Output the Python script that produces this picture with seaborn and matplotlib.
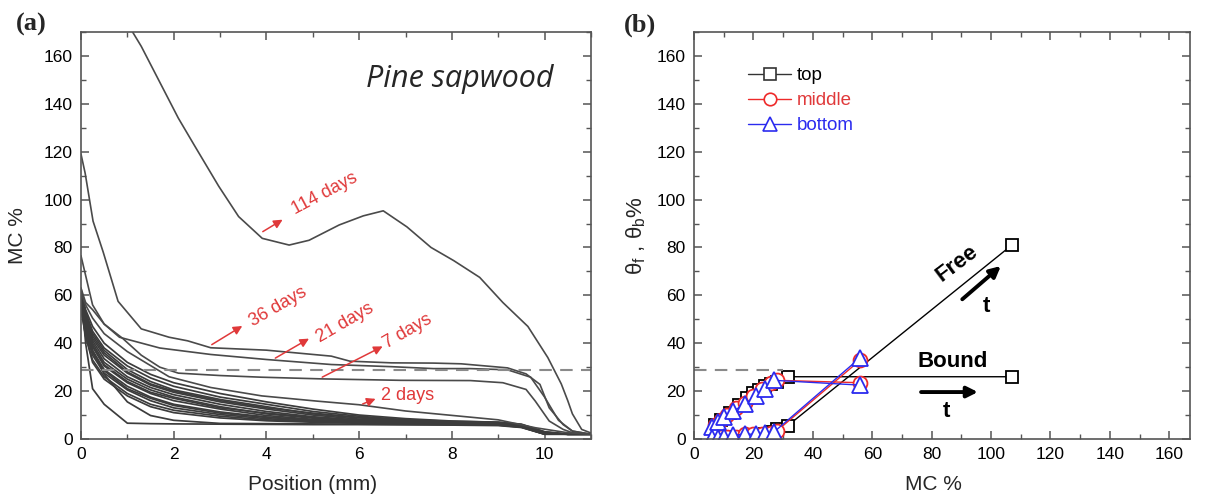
import numpy as np
import pandas as pd
import matplotlib
matplotlib.use("Agg")
import matplotlib.pyplot as plt
import seaborn as sns
from matplotlib.ticker import MultipleLocator
from matplotlib.lines import Line2D

# ---------------- data: panel (a) moisture profiles ----------------
grid_x = [0, 0.1, 0.25, 0.5, 1, 1.5, 2, 3, 4, 5, 6, 7, 8, 9, 9.5, 10, 10.5, 11]
b01 = [61, 54, 47, 40, 32, 27, 23.5, 19, 15.5, 12.5, 10, 8.5, 7.5, 7, 6, 3, 2, 2]
b02 = [62, 53, 45, 38, 30.5, 25.5, 22, 17.5, 14.5, 11.5, 9.5, 8, 7.2, 6.8, 5.8, 2.8, 2, 2]
b03 = [59, 52, 44, 37, 29, 24, 20.5, 16.5, 13.5, 10.5, 8.8, 7.6, 7, 6.6, 5.7, 2.6, 2, 2]
b04 = [60, 51, 42, 35, 27.5, 22.5, 19.5, 15.5, 12.5, 10, 8.3, 7.3, 6.8, 6.5, 5.6, 2.5, 2, 2]
b05 = [58, 50, 41, 33.5, 26, 21.5, 18.5, 14.5, 11.5, 9.3, 7.9, 7.1, 6.7, 6.4, 5.5, 2.4, 2, 2]
b06 = [57, 49, 40, 32, 25, 20.5, 17.5, 13.5, 10.5, 8.7, 7.5, 6.9, 6.5, 6.3, 5.4, 2.3, 2, 2]
b07 = [56, 48, 38.5, 30.5, 23.5, 19, 16, 12.5, 9.8, 8.2, 7.2, 6.7, 6.4, 6.2, 5.3, 2.2, 2, 2]
b08 = [55, 46, 37, 29, 22, 17.5, 14.5, 11.3, 9.2, 7.8, 7, 6.5, 6.3, 6.1, 5.2, 2.2, 2, 2]
b09 = [56, 45, 35, 27.5, 20.5, 16, 13, 10.2, 8.5, 7.4, 6.8, 6.4, 6.2, 6, 5.1, 2.1, 2, 2]
b10 = [54, 43, 32, 25, 18, 13.5, 11, 8.8, 7.6, 7, 6.6, 6.3, 6.1, 5.9, 5, 2, 2, 2]
b11 = [60, 47, 37, 27, 15.5, 9.8, 7.8, 6.5, 6.4, 6.3, 6.2, 6.1, 6, 5.8, 4.9, 2, 2, 2]
b12 = [62, 40, 21, 14.5, 6.6, 6.4, 6.3, 6.2, 6.1, 6, 6, 5.9, 5.8, 5.6, 4.8, 2, 2, 2]
b13 = [63, 52, 43, 36, 28, 23, 20, 16, 13, 10.8, 9, 8, 7.4, 7, 6.2, 3, 2, 2]
b14 = [58, 47, 39, 31, 24, 19.5, 17, 13, 10.8, 9, 7.8, 7.2, 6.9, 6.7, 5.8, 2.5, 2, 2]
b15 = [57, 45, 36, 28.5, 21, 17, 14, 10.8, 9, 7.9, 7.3, 6.9, 6.6, 6.4, 5.6, 2.3, 2, 2]
b16 = [55, 43, 33, 26, 19, 14.5, 12, 9.5, 8, 7.3, 6.9, 6.6, 6.4, 6.2, 5.4, 2.2, 2, 2]

d2_x = [0, 0.1, 0.25, 0.5, 1, 1.9, 2.8, 3.9, 5.1, 6.0, 7.0, 8.3, 9.0, 9.8, 10.5, 11]
d2_y = [61, 56, 50.5, 44, 36.5, 26, 21.5, 18, 15.8, 14.3, 11.7, 9.3, 8, 4.7, 2.6, 2]

d7_x = [0, 0.1, 0.25, 0.5, 0.9, 1.3, 1.7, 2.1, 3.0, 3.9, 5.2, 6.9, 8.4, 9.1, 9.6, 9.8, 10.1, 10.4, 10.6, 11]
d7_y = [63, 57, 54, 48, 42, 35, 30, 27.5, 26.5, 25.8, 25.1, 24.5, 24.4, 23.5, 20.7, 15.8, 7.5, 4, 2.6, 2]

d21_x = [0, 0.25, 0.5, 0.83, 1.7, 2.8, 4.0, 5.4, 6.7, 7.6, 8.4, 9.2, 9.7, 10.0, 10.3, 10.6, 11]
d21_y = [76.5, 56, 48, 42.5, 38, 35.3, 33.2, 31.1, 30.2, 29.4, 29.4, 28.9, 25.8, 17.5, 7.8, 3.3, 2]

d36_x = [0, 0.09, 0.26, 0.48, 0.8, 1.3, 1.9, 2.3, 2.8, 4.0, 5.4, 5.8, 6.7, 7.6, 8.2, 9.2, 9.6, 9.9, 10.1, 10.4, 10.6, 11]
d36_y = [119, 111, 91, 78, 57.5, 46, 42.5, 41, 38.1, 37.1, 34.6, 32.5, 31.8, 31.7, 31.4, 29.7, 27.2, 22.8, 13, 6, 3.3, 2]

d114_x = [1.05, 1.3, 1.7, 2.1, 2.45, 2.97, 3.4, 3.91, 4.49, 4.92, 5.57, 6.09, 6.52, 7.03, 7.55,
          8.04, 8.6, 9.1, 9.64, 10.07, 10.36, 10.5, 10.6, 10.8, 11.0]
d114_y = [172, 164, 149, 134, 122.5, 105.6, 92.9, 83.8, 81, 83, 89.4, 93.2, 95.3, 88.6, 80,
          74.5, 67.5, 57, 47, 34, 23, 16, 10.5, 4, 2.5]

fsp = 29  # fibre saturation level (dashed line)

# ---------------- data: panel (b) free / bound water ----------------
top_mc = [7, 9, 12, 15, 18, 20, 22, 24, 26, 28, 31.5, 107]
top_b = [6, 8, 11, 14, 17, 19, 20.5, 22, 23, 24, 26, 26]
top_f = [1, 1, 1, 1, 1, 1, 1.5, 2, 3, 4, 5.5, 81]

mid_mc = [7, 9, 11, 14, 17, 20, 23, 26, 28, 56]
mid_b = [6, 8, 10, 13, 15, 18, 21, 23.5, 24.5, 23.5]
mid_f = [0.5, 1, 1, 1, 2, 2, 2, 2.5, 3.5, 33]

bot_mc = [6, 8, 10, 13, 17, 21, 24, 27, 56]
bot_b = [5, 7, 9, 11.5, 14.5, 18, 21, 24.5, 22.5]
bot_f = [0.5, 0.5, 1, 1.5, 2, 2, 2.5, 3, 34]

locations = ["top", "middle", "bottom"]

# ---------------- style ----------------
sns.set_theme(style="ticks")
plt.rcParams['font.family'] = ['Liberation Sans', 'DejaVu Sans']
plt.rcParams['mathtext.fontset'] = 'custom'
plt.rcParams['mathtext.rm'] = 'Liberation Sans'
plt.rcParams['mathtext.it'] = 'Liberation Sans'

GRAY = '#3c3c3c'
RED_TXT = '#e0393a'
RED = '#ee2a2a'
BLUE = '#2b2bef'
SPINE = '#555555'

fig = plt.figure(figsize=(12.07, 4.98), dpi=100)
axA = fig.add_axes([0.0671, 0.1185, 0.4225, 0.8173])
axB = fig.add_axes([0.575, 0.1185, 0.411, 0.8173])


def style_axes(ax):
    for s in ax.spines.values():
        s.set_color(SPINE)
        s.set_linewidth(1.2)
    ax.tick_params(which='both', direction='in', top=True, right=True,
                   color=SPINE, labelcolor='black', labelsize=12.5)
    ax.tick_params(which='major', length=6, width=1.1, pad=6)
    ax.tick_params(which='minor', length=3.5, width=1.0)


# ---------------- panel (a) ----------------
bundle = [b01, b02, b03, b04, b05, b06, b07, b08, b09, b10, b11, b12, b13, b14, b15, b16]
for yy in bundle:
    sns.lineplot(x=grid_x, y=yy, ax=axA, color=GRAY, lw=1.25, sort=False,
                 estimator=None)
for xx, yy in [(d2_x, d2_y), (d7_x, d7_y), (d21_x, d21_y), (d36_x, d36_y), (d114_x, d114_y)]:
    sns.lineplot(x=xx, y=yy, ax=axA, color='#4a4a4a', lw=1.2, sort=False, estimator=None)

axA.axhline(fsp, color='#8a8a8a', lw=1.5, ls=(0, (6, 4)))

axA.set_xlim(0, 11)
axA.set_ylim(0, 170)
axA.xaxis.set_major_locator(MultipleLocator(2))
axA.xaxis.set_minor_locator(MultipleLocator(1))
axA.yaxis.set_major_locator(MultipleLocator(20))
axA.yaxis.set_minor_locator(MultipleLocator(10))
style_axes(axA)
axA.set_xlabel("Position (mm)", fontsize=15)
axA.xaxis.set_label_coords(0.455, -0.088)
axA.set_ylabel("MC %", fontsize=15)
axA.yaxis.set_label_coords(-0.105, 0.5)

axA.text(0.927, 0.885, "Pine sapwood", transform=axA.transAxes, fontsize=22,
         fontstyle='italic', family=['Open Sans', 'DejaVu Sans'], ha='right', va='center')

arrow_kw = dict(arrowstyle='-|>', color=RED_TXT, lw=1.1, mutation_scale=13)
ann = [
    ("114 days", (3.87, 86), (4.40, 92.2), (5.25, 102.5), 28),
    ("36 days", (2.77, 38.8), (3.53, 47.8), (4.25, 55.4), 30),
    ("21 days", (4.14, 33.2), (4.97, 42.5), (5.70, 48.5), 30),
    ("7 days", (5.15, 25.3), (6.56, 39.2), (7.05, 45.0), 30),
    ("2 days", (6.02, 14.2), (6.41, 17.2), (7.05, 18.0), 0),
]
for label, tail, tip, tpos, rot in ann:
    axA.annotate("", xy=tip, xytext=tail, arrowprops=arrow_kw)
    axA.text(tpos[0], tpos[1], label, color=RED_TXT, fontsize=13, rotation=rot,
             rotation_mode='anchor', ha='center', va='center')

# ---------------- panel (b) ----------------
series = [
    (top_mc, top_b, top_f, 'black', 's', 9),
    (mid_mc, mid_b, mid_f, RED, 'o', 10),
    (bot_mc, bot_b, bot_f, BLUE, '^', 12),
]
for mc, tb, tf, col, mk, ms in series:
    for yy in (tb, tf):
        sns.lineplot(x=mc, y=yy, ax=axB, color=col, lw=1.0, sort=False, estimator=None,
                     marker=mk, markersize=ms, markerfacecolor='white',
                     markeredgecolor=col, markeredgewidth=1.3)
handles = []
leg_ms = [8, 9, 10]
for (mc, tb, tf, col, mk, ms), name, lms in zip(series, locations, leg_ms):
    c = col if col != 'black' else '#333333'
    handles.append(Line2D([], [], color=c, lw=1.0, marker=mk, markersize=lms,
                          markerfacecolor='white', markeredgecolor=c,
                          markeredgewidth=1.2, label=name))

axB.plot([0, 30], [fsp, fsp], color='#8a8a8a', lw=1.5, ls=(0, (6, 4)))

axB.set_xlim(0, 167)
axB.set_ylim(0, 170)
axB.xaxis.set_major_locator(MultipleLocator(20))
axB.xaxis.set_minor_locator(MultipleLocator(10))
axB.yaxis.set_major_locator(MultipleLocator(20))
axB.yaxis.set_minor_locator(MultipleLocator(10))
style_axes(axB)
axB.set_xlabel("MC %", fontsize=15)
axB.xaxis.set_label_coords(0.482, -0.088)
axB.set_ylabel(r"θ$_\mathrm{f}$ , θ$_\mathrm{b}$%", fontsize=16, labelpad=6)

leg = axB.legend(handles=handles, loc='upper left', bbox_to_anchor=(0.075, 0.955),
                 frameon=False, fontsize=13.5, handlelength=2.3, handletextpad=0.3,
                 labelspacing=0.42, labelcolor=['black', RED_TXT, BLUE])

bold = dict(fontsize=16, fontweight='bold', color='black')
axB.text(88.6, 73.5, "Free", rotation=37, ha='center', va='center', **bold)
axB.text(98.6, 55.5, "t", ha='center', va='center', **bold)
axB.text(87.0, 32.5, "Bound", ha='center', va='center', **bold)
axB.text(85.0, 11.5, "t", ha='center', va='center', **bold)
blk_arrow = dict(arrowstyle='-|>', color='black', lw=2.8, mutation_scale=16)
axB.annotate("", xy=(104, 73), xytext=(89.6, 57.6), arrowprops=blk_arrow)
axB.annotate("", xy=(96.5, 19.6), xytext=(75.5, 19.6), arrowprops=blk_arrow)

# panel labels
fig.text(0.026, 0.95, "(a)", fontsize=19, fontweight='bold',
         family=['Liberation Serif', 'DejaVu Serif'], ha='center', va='center')
fig.text(0.530, 0.95, "(b)", fontsize=19, fontweight='bold',
         family=['Liberation Serif', 'DejaVu Serif'], ha='center', va='center')

fig.savefig("out.png", dpi=100)
